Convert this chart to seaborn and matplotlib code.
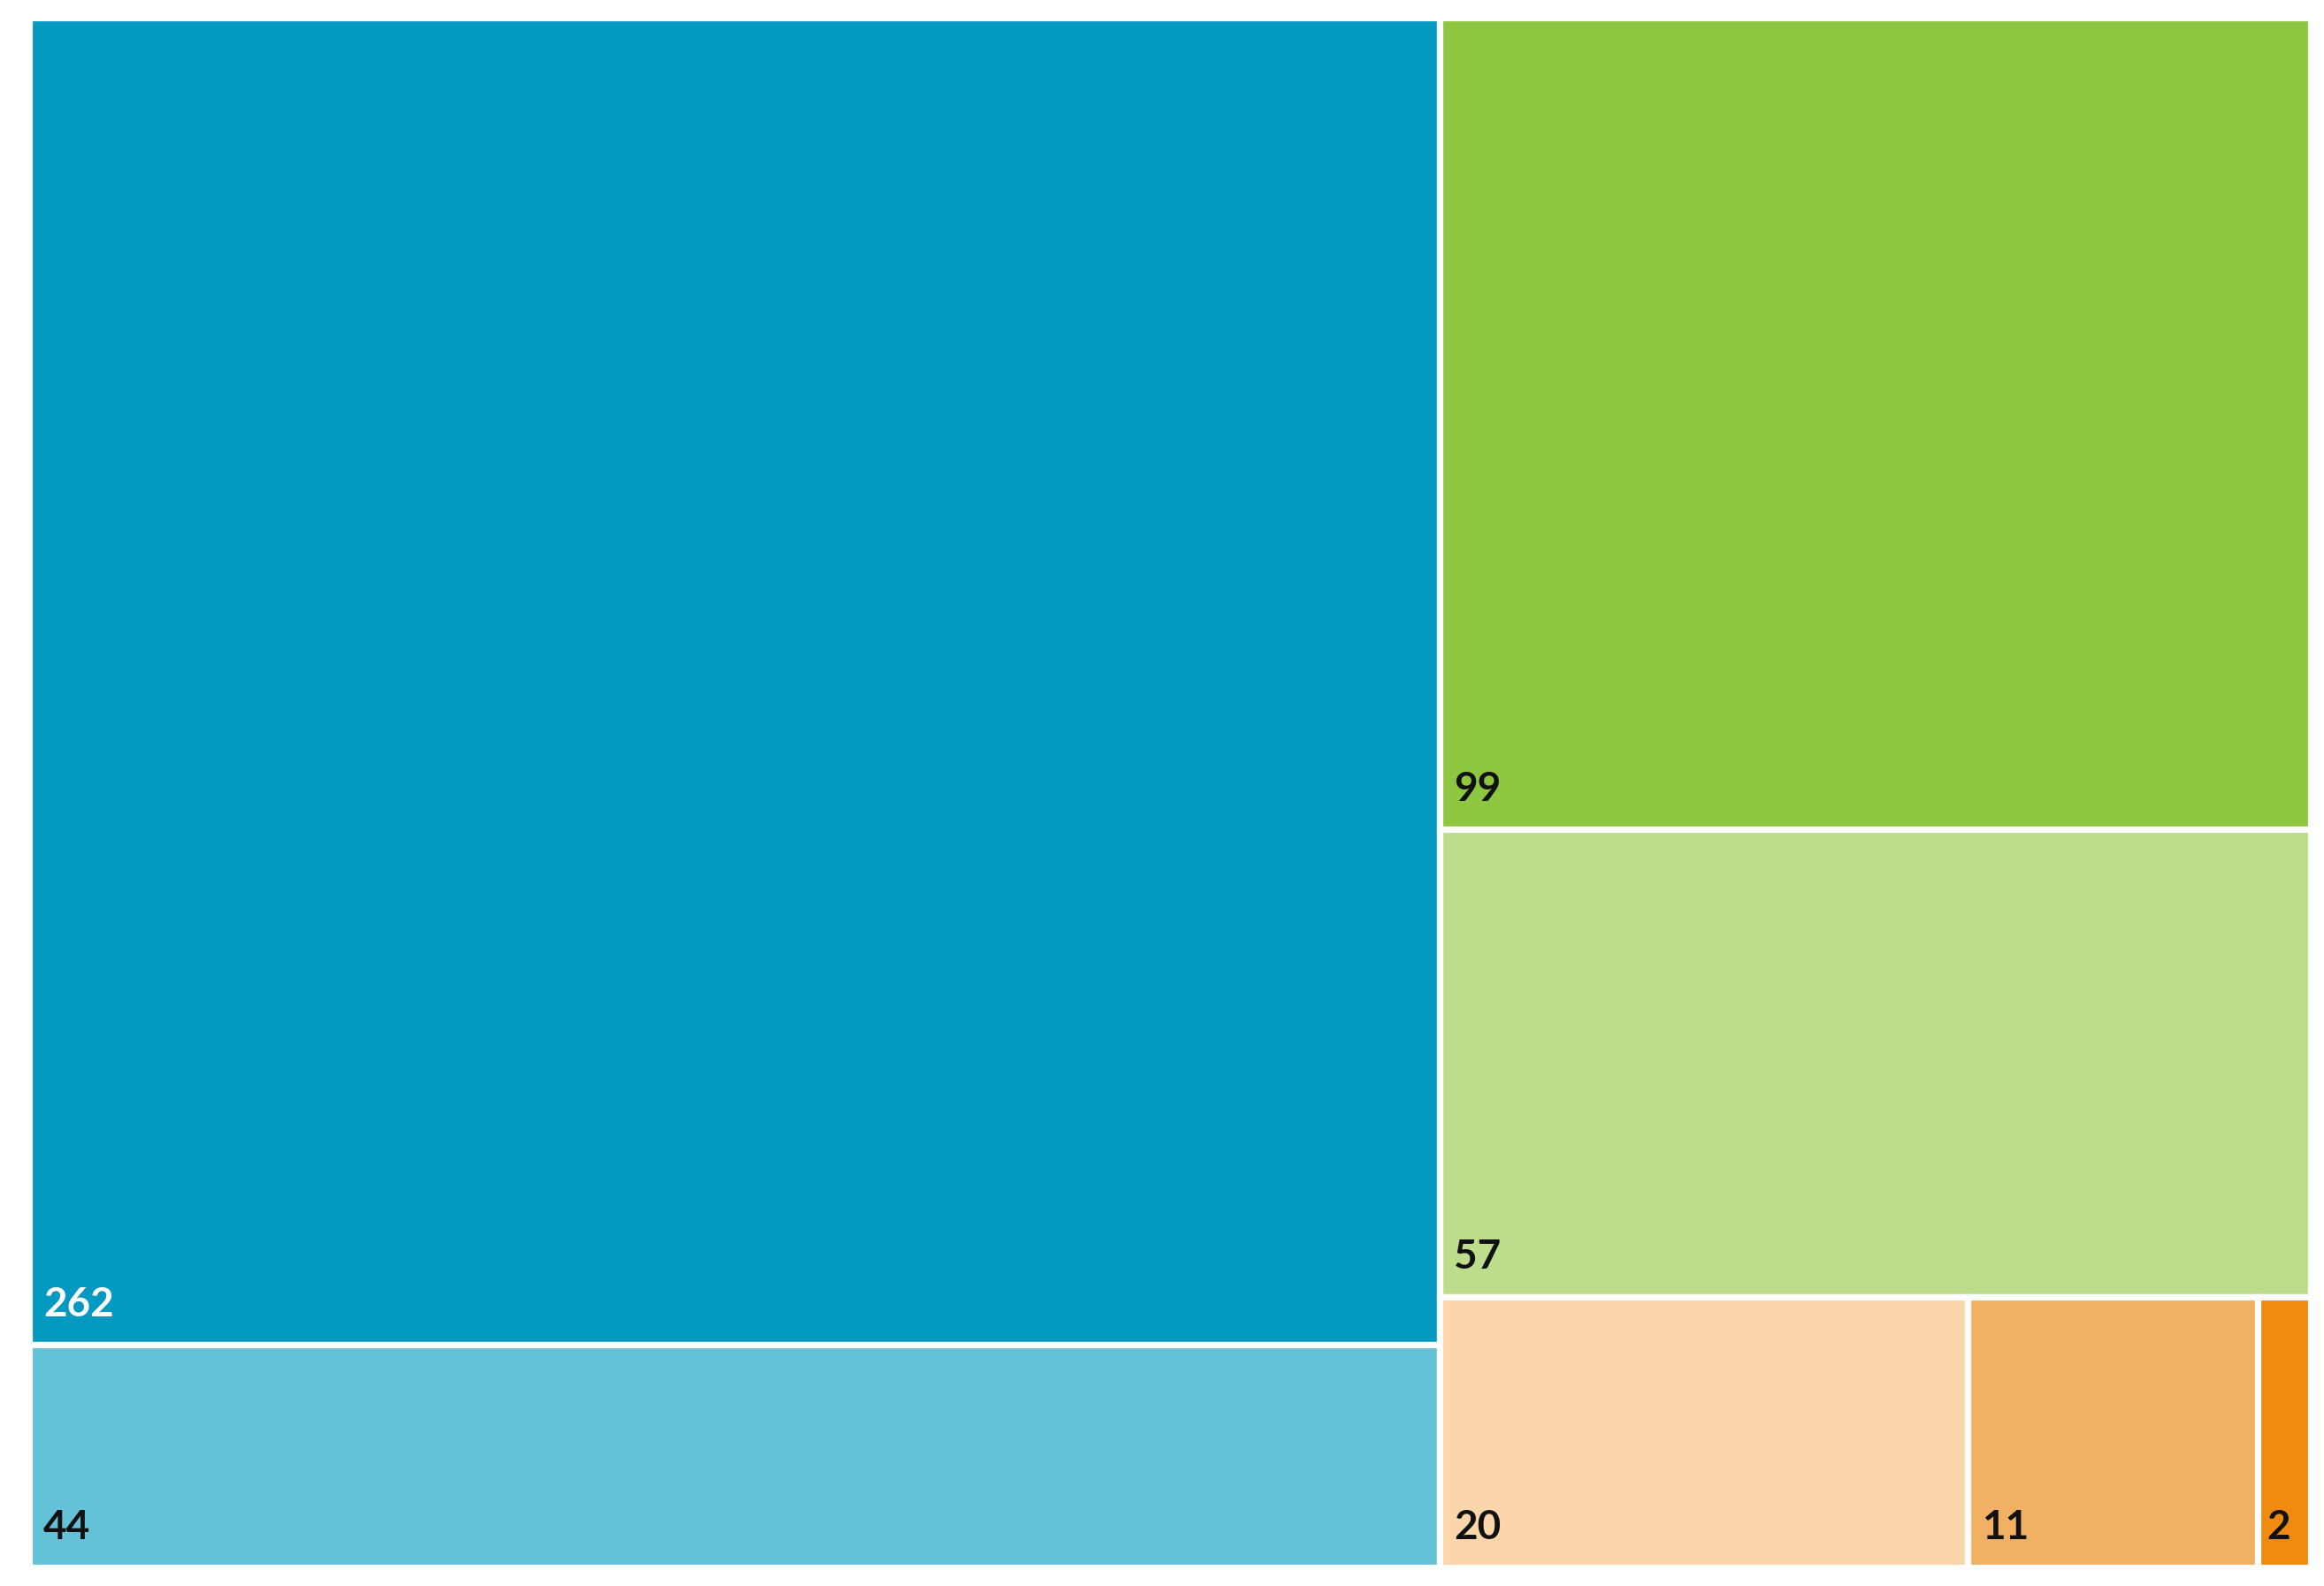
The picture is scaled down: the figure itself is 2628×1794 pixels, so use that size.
import matplotlib
matplotlib.use("Agg")
import matplotlib.pyplot as plt
import seaborn as sns

# Hierarchy: three groups, each with its own leaves
group_names = ["blue", "green", "orange"]
blue_values = [262, 44]
green_values = [99, 57]
orange_values = [20, 11, 2]

blue_colors = ["#0499C0", "#63C2D8"]
green_colors = ["#8DC63F", "#BDDD8D"]
orange_colors = ["#FAD6AA", "#F2B064", "#F08A10"]

label_colors = {262: "white"}

W, H = 2580.0, 1753.0  # layout space, same aspect as the drawing area


def slice_layout(values, x, y, w, h):
    """Peel off one item at a time along the longer side of the remaining box.
    y is measured from the top."""
    rects = []
    total = float(sum(values))
    for i, v in enumerate(values):
        if i == len(values) - 1:
            rects.append((x, y, w, h))
            break
        frac = v / total
        if w >= h:
            ww = w * frac
            rects.append((x, y, ww, h))
            x, w = x + ww, w - ww
        else:
            hh = h * frac
            rects.append((x, y, w, hh))
            y, h = y + hh, h - hh
        total -= v
    return rects


groups = [blue_values, green_values, orange_values]
colors = [blue_colors, green_colors, orange_colors]
group_rects = slice_layout([sum(g) for g in groups], 0, 0, W, H)

sns.set_theme(style="white")
plt.rcParams["font.family"] = ["Lato", "DejaVu Sans"]

fig = plt.figure(figsize=(13.14, 8.97), dpi=200)
ax = fig.add_axes([33 / 2628, 21 / 1794, 2580 / 2628, 1753 / 1794])
ax.set_xlim(0, W)
ax.set_ylim(H, 0)
ax.axis("off")

for vals, cols, (gx, gy, gw, gh) in zip(groups, colors, group_rects):
    for v, c, (x, y, w, h) in zip(vals, cols, slice_layout(vals, gx, gy, gw, gh)):
        ax.bar(x, h, width=w, bottom=y, align="edge", color=c,
               edgecolor="white", linewidth=2.6)
        dx = 16 if w > 120 else 10
        ax.annotate(str(v), xy=(x, y + h), xytext=(dx * 0.36, 32 * 0.36),
                    textcoords="offset points", ha="left", va="baseline",
                    fontsize=16.5, fontweight="bold",
                    color=label_colors.get(v, "#111111"))

fig.savefig("out.png", dpi=200, facecolor="white")
